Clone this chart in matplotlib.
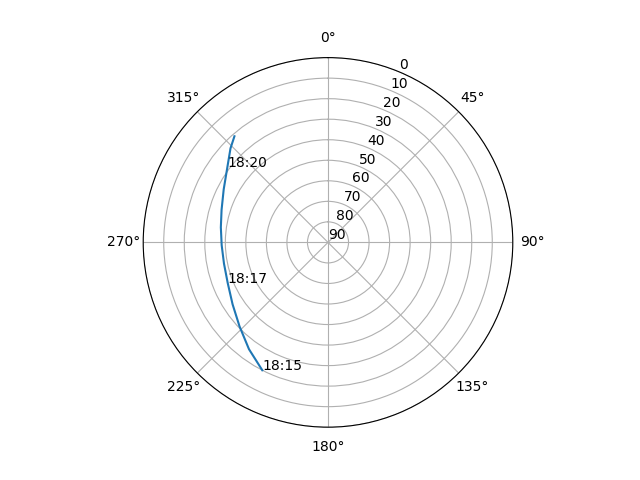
import numpy as np
import matplotlib
matplotlib.use("Agg")
import matplotlib.pyplot as plt

# satellite pass
times = ["18:15:00", "18:15:30", "18:16:00", "18:16:30", "18:17:00", "18:17:30",
         "18:18:00", "18:18:30", "18:19:00", "18:19:30", "18:20:00", "18:20:30",
         "18:20:45"]
azimuth = [207.2, 216.5, 226.5, 237.0, 247.9, 258.5,
           268.5, 278.0, 287.0, 297.0, 306.8, 314.0, 318.6]
elevation = [20.0, 25.3, 30.6, 34.6, 37.3, 38.3,
             38.2, 37.3, 35.8, 33.0, 28.8, 24.0, 21.1]
labeled = ["18:15:00", "18:17:00", "18:20:00"]

fig = plt.figure(figsize=(6.4, 4.8), dpi=100)
ax = fig.add_subplot(111, projection="polar")
ax.set_theta_zero_location("N")
ax.set_theta_direction(-1)

ax.plot(np.radians(azimuth), elevation)
for t, a, e in zip(times, azimuth, elevation):
    if t in labeled:
        ax.text(np.radians(a), e, t[:5])

ax.set_rlim(90, 0)
ax.set_yticks(range(0, 91, 10))

fig.savefig("out.png")
